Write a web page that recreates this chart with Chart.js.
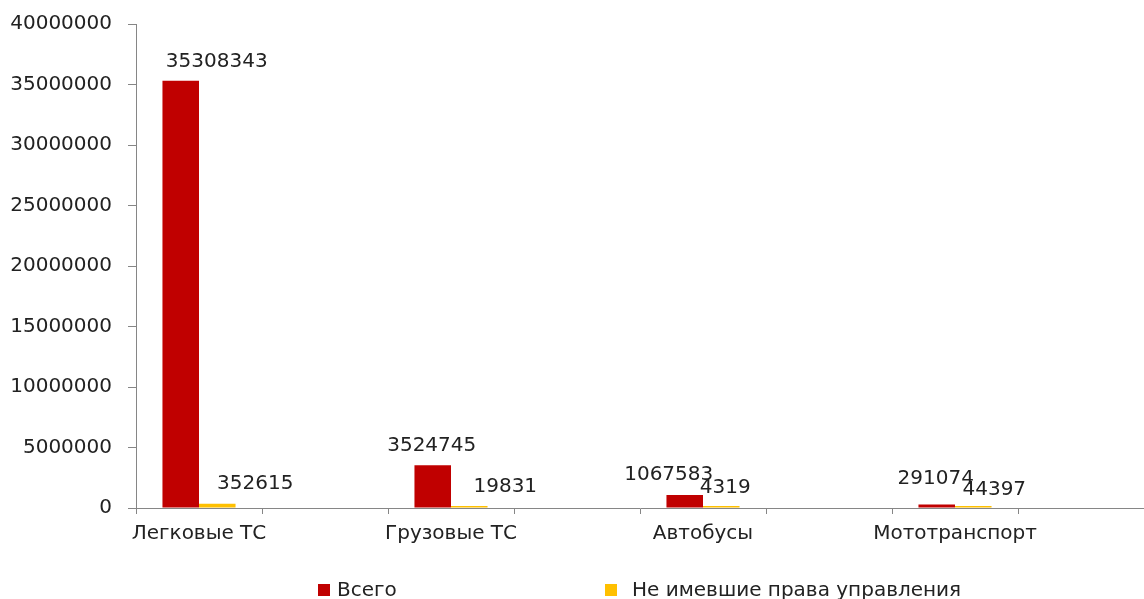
<!DOCTYPE html>
<html>
<head>
<meta charset="utf-8">
<script src="https://cdn.jsdelivr.net/npm/chart.js@4"></script>
<style>
    body { margin: 0; background: #fff; }
    #wrap { position: relative; width: 1144px; height: 599px; }
    #legend { position: absolute; top: 577px; left: 0; width: 1144px; height: 22px;
              font-family: 'DejaVu Sans', sans-serif; font-size: 20px; color: #222; }
    .item { position: absolute; top: 0; white-space: nowrap; }
    .box { display: inline-block; width: 12px; height: 12px; vertical-align: 0px; }
</style>
</head>
<body>
<div id="wrap">
    <canvas id="chart" width="1144" height="599"></canvas>
    <div id="legend"></div>
</div>
<script>
// категории (пустые промежутки между группами, как в исходной диаграмме)
const categories = ['Легковые ТС', '', 'Грузовые ТС', '', 'Автобусы', '', 'Мототранспорт', ''];
const seriesNames = ['Всего', 'Не имевшие права управления'];
const totalValues = [35308343, null, 3524745, null, 1067583, null, 291074, null];
const noLicenseValues = [352615, null, 19831, null, 4319, null, 44397, null];
const yTicks = [0, 5000000, 10000000, 15000000, 20000000, 25000000, 30000000, 35000000, 40000000];

const colors = ['#C00000', '#FFC000'];
// сдвиг подписей данных (как они стоят на картинке)
const labelShift = [
    [[36, 19], null, [-1, 20], null, [-16, 20], null, [-1, 26], null],
    [[38, 20], null, [36, 19], null, [4, 18], null, [21, 16], null]
];

const FONT = "'DejaVu Sans', sans-serif";

const dataLabels = {
    id: 'dataLabels',
    afterDatasetsDraw(chart) {
        const ctx = chart.ctx;
        ctx.save();
        ctx.font = '20px ' + FONT;
        ctx.fillStyle = '#222';
        ctx.textAlign = 'center';
        ctx.textBaseline = 'middle';
        chart.data.datasets.forEach((ds, i) => {
            chart.getDatasetMeta(i).data.forEach((bar, j) => {
                const v = ds.data[j];
                if (v === null) return;
                const s = labelShift[i][j] || [0, 18];
                ctx.fillText(String(v), bar.x + s[0], bar.y - s[1]);
            });
        });
        ctx.restore();
    }
};

const ctx = document.getElementById('chart').getContext('2d');
const chart = new Chart(ctx, {
    type: 'bar',
    data: {
        labels: categories,
        datasets: [
            { label: seriesNames[0], data: totalValues, backgroundColor: colors[0], minBarLength: 2 },
            { label: seriesNames[1], data: noLicenseValues, backgroundColor: colors[1], minBarLength: 2 }
        ]
    },
    options: {
        responsive: false,
        animation: false,
        events: [],
        layout: { padding: { top: 24, right: 0, bottom: 0, left: 0 } },
        datasets: { bar: { barPercentage: 1, categoryPercentage: 0.58, skipNull: false } },
        plugins: {
            legend: { display: false },
            tooltip: { enabled: false }
        },
        scales: {
            x: {
                grid: { display: true, drawOnChartArea: false, offset: true, color: '#868686', tickLength: 6 },
                border: { color: '#868686', width: 1 },
                ticks: { color: '#222', font: { family: FONT, size: 20 }, padding: 8, maxRotation: 0, autoSkip: false },
                afterFit(scale) { scale.height = 91; }
            },
            y: {
                min: 0,
                max: 40000000,
                afterBuildTicks(scale) { scale.ticks = yTicks.map(v => ({ value: v })); },
                grid: { display: true, drawOnChartArea: false, color: '#868686', tickLength: 8 },
                border: { color: '#868686', width: 1 },
                ticks: { color: '#222', font: { family: FONT, size: 20 }, padding: 16, callback: v => String(v) },
                afterFit(scale) { scale.width = 136; scale.paddingTop = 0; scale.paddingBottom = 0; }
            }
        }
    },
    plugins: [dataLabels]
});

// легенда снизу
const legend = document.getElementById('legend');
const legendLeft = [318, 605];
const legendGap = [7, 15];
seriesNames.forEach((name, i) => {
    legend.innerHTML += `<span class="item" style="left:${legendLeft[i]}px"><span class="box" style="background:${colors[i]};margin-right:${legendGap[i]}px"></span>${name}</span>`;
});
</script>
</body>
</html>
